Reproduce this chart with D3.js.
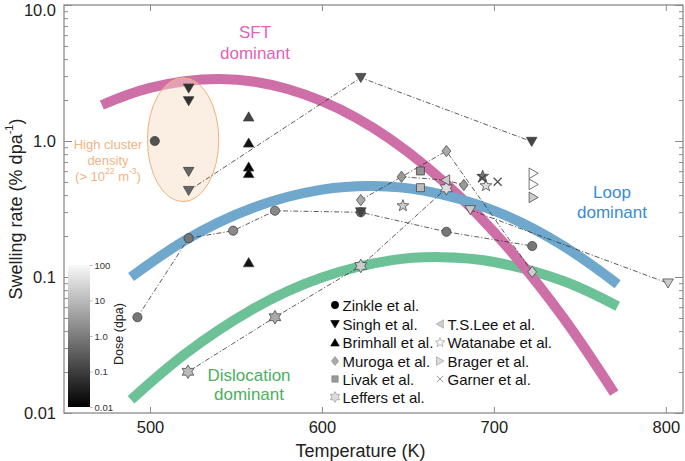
<!DOCTYPE html>
<html><head><meta charset="utf-8">
<script src="https://cdn.jsdelivr.net/npm/d3@7"></script>
<style>body{margin:0;background:#fff}svg{display:block;font-family:"Liberation Sans",Arial,Helvetica,sans-serif}</style>
</head><body><svg id="c" width="685" height="461"></svg>
<script>
// ---------------- data ----------------
const xTicks = [500, 600, 700, 800];
const yTicks = [0.01, 0.1, 1, 10];
const yTickLabels = ["0.01", "0.1", "1.0", "10.0"];
const doseTicks = [0.01, 0.1, 1, 10, 100];
const doseTickLabels = ["0.01", "0.1", "1.0", "10", "100"];

// guide bands [T (K), swelling rate]
const sftBand = [[472,1.84],[500,2.46],[540,2.86],[580,2.41],[620,1.48],[660,0.66],[700,0.215],[740,0.051],[770,0.014]];
const loopBand = [[489,0.100],[520,0.1845],[560,0.323],[600,0.439],[630,0.467],[660,0.430],[700,0.308],[740,0.1706],[772,0.0886]];
const dislocBand = [[489,0.0125],[520,0.0269],[560,0.0583],[600,0.0993],[640,0.1325],[670,0.140],[700,0.129],[740,0.0938],[772,0.0609]];

// high-cluster-density ellipse extents [Tmin, Tmax, vmin, vmax]
const clusterEllipse = [498.5, 540, 0.358, 2.92];

// studies: [T, rate, dose]
const zinkle   = [[502.8,1.0,0.2],[492.7,0.0506,0.7],[522.5,0.193,0.7],[548.4,0.219,1.4],[572.7,0.307,1.4],[622.6,0.299,0.4],[672.4,0.215,0.7],[722.3,0.169,0.7]];
const singh    = [[522.5,2.44,0.06],[522.5,1.97,0.06],[522.5,0.595,0.4],[522.5,0.431,0.4],[622.6,2.92,0.2],[722,0.99,0.12],[622.6,0.30,0.12],[686.3,0.311,16],[801.3,0.09,16]];
const brimhall = [[557.4,1.51,0.12],[557.4,0.97,0.02],[557.4,0.647,0.01],[557.4,0.579,0.01],[557.4,0.128,0.02]];
const muroga   = [[622.6,0.368,4.6],[646.3,0.546,2.5],[672.4,0.844,4.6],[682.5,0.475,2.5],[722.3,0.109,16]];
const livak    = [[657.3,0.602,2.0],[657.3,0.454,8.6]];
const leffers  = [[522.1,0.0201,8.6],[572.7,0.0506,4.6],[622.6,0.1205,16],[672.4,0.449,29]];
const tslee    = [[671.8,0.516,16]];
const watanabe = [[647.1,0.334,16],[695.4,0.469,29],[693.5,0.55,0.7]];
const brager   = [[723,0.579,100],[723,0.48,100],[723,0.385,16]];
const garner   = [[693.1,0.532,0.12],[702.2,0.502,0.2]];

// dash-dot connectors [T, rate]
const connectors = [
  [[492.7,0.0506],[522.5,0.193],[548.4,0.219],[572.7,0.307],[622.6,0.299],[672.4,0.215],[722.3,0.169]],
  [[522.5,0.431],[622.6,2.92],[722,0.99]],
  [[622.6,0.368],[646.3,0.546],[672.4,0.844],[722.3,0.109]],
  [[646.3,0.546],[671.8,0.516],[682.5,0.475]],
  [[522.1,0.0201],[572.7,0.0506],[622.6,0.1205],[672.4,0.449]],
  [[686.3,0.311],[801.3,0.09]]
];

const legendNames = ["Zinkle et al.","Singh et al.","Brimhall et al.","Muroga et al.","Livak et al.","Leffers et al.","T.S.Lee et al.","Watanabe et al.","Brager et al.","Garner et al."];

// ---------------- drawing ----------------
const svg = d3.select("#c");
const L = 64, R = 683, T = 5, B = 413;
const x = d3.scaleLinear().domain([450, 810]).range([L, R]);
const y = d3.scaleLog().domain([0.01, 10]).range([B, T]);
const doseT = d3.scaleLog().domain([0.01, 100]).range([0, 1]).clamp(true);
const gray = d => d3.interpolateRgb("#000", "#fff")(doseT(d));

// shapes
function poly(pts){ return "M" + pts.map(p => p[0].toFixed(2) + "," + p[1].toFixed(2)).join("L") + "Z"; }
function starPath(n, ro, ri, a0){
  const pts = [];
  for (let i = 0; i < 2*n; i++){
    const a = a0 + i*Math.PI/n, r = i%2 ? ri : ro;
    pts.push([r*Math.cos(a), r*Math.sin(a)]);
  }
  return poly(pts);
}
function shape(type, s){
  switch(type){
    case "circle": return `M${-4.6*s},0A${4.6*s},${4.6*s} 0 1,0 ${4.6*s},0A${4.6*s},${4.6*s} 0 1,0 ${-4.6*s},0Z`;
    case "down": return poly([[-5.3*s,-4.3*s],[5.3*s,-4.3*s],[0,4.8*s]]);
    case "up": return poly([[-5.3*s,4.3*s],[5.3*s,4.3*s],[0,-4.8*s]]);
    case "left": return poly([[-4.8*s,0],[4.3*s,-5.3*s],[4.3*s,5.3*s]]);
    case "right": return poly([[4.8*s,0],[-4.3*s,-5.3*s],[-4.3*s,5.3*s]]);
    case "diamond": return poly([[0,-5.6*s],[4.4*s,0],[0,5.6*s],[-4.4*s,0]]);
    case "square": return poly([[-4*s,-4*s],[4*s,-4*s],[4*s,4*s],[-4*s,4*s]]);
    case "star": return starPath(5, 6.2*s, 2.6*s, -Math.PI/2);
    case "hex": return starPath(6, 6.8*s, 6.8*s/Math.sqrt(3), -Math.PI/2);
    case "cross": { const c = 4*s; return `M${-c},${-c}L${c},${c}M${-c},${c}L${c},${-c}`; }
  }
}

// frame + axes
const gAx = svg.append("g");
function styleAxis(g){
  g.select(".domain").remove();
  g.selectAll("line").attr("stroke", "#8a8a8a").attr("stroke-width", 1);
  g.selectAll("text").attr("fill", "#222").attr("font-size", "16.5px");
}
const minorY = [];
for (let e = -2; e < 1; e++) for (let m = 2; m <= 9; m++) minorY.push(m*Math.pow(10, e));

const yAxisG = gAx.append("g").attr("transform", `translate(${L},0)`)
  .call(d3.axisLeft(y).tickValues(yTicks).tickSize(-8).tickPadding(8).tickFormat((d,i) => yTickLabels[i]))
  .call(styleAxis);
yAxisG.selectAll(".tick text").filter(d => d === 10).attr("dy", "0.62em");
gAx.append("g").attr("transform", `translate(${L},0)`)
  .call(d3.axisLeft(y).tickValues(minorY).tickSize(-4).tickFormat(""))
  .call(styleAxis);
gAx.append("g").attr("transform", `translate(${R},0)`)
  .call(d3.axisRight(y).tickValues(yTicks).tickSize(-8).tickFormat(""))
  .call(styleAxis);
gAx.append("g").attr("transform", `translate(${R},0)`)
  .call(d3.axisRight(y).tickValues(minorY).tickSize(-4).tickFormat(""))
  .call(styleAxis);
gAx.append("g").attr("transform", `translate(0,${B})`)
  .call(d3.axisBottom(x).tickValues(xTicks).tickSize(-6).tickPadding(8).tickFormat(d3.format("d")))
  .call(styleAxis);
gAx.append("g").attr("transform", `translate(0,${T})`)
  .call(d3.axisTop(x).tickValues(xTicks).tickSize(-6).tickFormat(""))
  .call(styleAxis);
svg.append("rect").attr("x", L).attr("y", T).attr("width", R-L).attr("height", B-T)
  .attr("fill", "none").attr("stroke", "#8a8a8a").attr("stroke-width", 1.3);

svg.append("text").attr("x", (L+R)/2 - 13).attr("y", 451).attr("text-anchor", "middle")
  .attr("font-size", "18px").attr("fill", "#222").attr("dominant-baseline", "central").text("Temperature (K)");
const yl = svg.append("text").attr("transform", `translate(16,${(T+B)/2}) rotate(-90)`)
  .attr("text-anchor", "middle").attr("dominant-baseline", "central").attr("font-size", "18px").attr("fill", "#222");
yl.append("tspan").text("Swelling rate (% dpa");
yl.append("tspan").attr("font-size", "11px").attr("dy", "-7").text("-1");
yl.append("tspan").attr("dy", "7").text(")");

// clip for plot contents
svg.append("clipPath").attr("id", "clip").append("rect").attr("x", L).attr("y", T).attr("width", R-L).attr("height", B-T);
const plot = svg.append("g").attr("clip-path", "url(#clip)");

// bands
const bandLine = d3.line().x(d => x(d[0])).y(d => y(d[1])).curve(d3.curveNatural);
[[dislocBand, "#6cc196"], [sftBand, "#cf6fa7"], [loopBand, "#6fa8cc"]].forEach(([d, c]) => {
  plot.append("path").attr("d", bandLine(d)).attr("fill", "none").attr("stroke", c)
    .attr("stroke-width", 10).attr("stroke-linecap", "butt");
});

// ellipse
{
  const [t0, t1, v0, v1] = clusterEllipse;
  const cx = (x(t0)+x(t1))/2, cy = (y(v0)+y(v1))/2;
  plot.append("ellipse").attr("cx", cx).attr("cy", cy)
    .attr("rx", (x(t1)-x(t0))/2).attr("ry", (y(v0)-y(v1))/2)
    .attr("fill", "#f7dcc4").attr("fill-opacity", 0.45)
    .attr("stroke", "#efb27c").attr("stroke-width", 1);
}

// region labels
function label(lines, cx, cy, color, size, gap){
  lines.forEach((t, i) => svg.append("text").attr("x", cx).attr("y", cy + i*gap)
    .attr("text-anchor", "middle").attr("dominant-baseline", "central")
    .attr("font-size", size).attr("fill", color).text(t));
}
label(["SFT", "dominant"], 255, 32, "#e063b9", "17px", 21);
label(["Loop", "dominant"], 612, 192, "#3a8bd2", "17px", 20);
label(["Dislocation", "dominant"], 249, 375, "#4caf60", "17px", 19.5);
label(["High cluster", "density"], 108, 144, "#f1b482", "13px", 16);
{
  const t = svg.append("text").attr("x", 108).attr("y", 176).attr("text-anchor", "middle")
    .attr("dominant-baseline", "central").attr("font-size", "13px").attr("fill", "#f1b482");
  t.append("tspan").text("(> 10");
  t.append("tspan").attr("font-size", "8.5px").attr("dy", "-5").text("22");
  t.append("tspan").attr("dy", "5").text(" m");
  t.append("tspan").attr("font-size", "8.5px").attr("dy", "-5").text("-3");
  t.append("tspan").attr("dy", "5").text(")");
}

// connectors
const conLine = d3.line().x(d => x(d[0])).y(d => y(d[1]));
connectors.forEach(c => plot.append("path").attr("d", conLine(c)).attr("fill", "none")
  .attr("stroke", "#333").attr("stroke-width", 0.8).attr("stroke-dasharray", "5,2,1.2,2"));

// markers
const studies = [
  [zinkle, "circle"], [singh, "down"], [brimhall, "up"], [muroga, "diamond"], [livak, "square"],
  [leffers, "hex"], [tslee, "left"], [watanabe, "star"], [brager, "right"], [garner, "cross"]
];
studies.forEach(([data, type]) => {
  plot.selectAll(null).data(data).enter().append("path")
    .attr("transform", d => `translate(${x(d[0])},${y(d[1])})`)
    .attr("d", shape(type, 1))
    .attr("fill", d => type === "cross" ? "none" : gray(d[2]))
    .attr("stroke", d => type === "cross" ? gray(d[2]) : "#3a3a3a")
    .attr("stroke-width", type === "cross" ? 1.3 : 0.7);
});

// legend
const legStyle = [
  ["circle", "#000", "#000"], ["down", "#000", "#000"], ["up", "#000", "#000"],
  ["diamond", "#aaa", "#888"], ["square", "#999", "#888"], ["hex", "#ddd", "#999"],
  ["left", "#ccc", "#aaa"], ["star", "#fff", "#999"], ["right", "#ddd", "#999"], ["cross", "none", "#999"]
];
const legPos = [[335,305],[335,324],[335,342.5],[335,361],[335,379],[335,397],
                [440,324],[440,342.5],[440,361],[440,379]];
legendNames.forEach((name, i) => {
  const [px, py] = legPos[i];
  const [type, f, s] = legStyle[i];
  svg.append("path").attr("transform", `translate(${px},${py})`).attr("d", shape(type, 0.8))
    .attr("fill", f).attr("stroke", s).attr("stroke-width", type === "cross" ? 1 : 0.7);
  svg.append("text").attr("x", px + 7.5).attr("y", py).attr("dominant-baseline", "central")
    .attr("font-size", "15px").attr("fill", "#111").text(name);
});

// dose colourbar
{
  const defs = svg.append("defs");
  const lg = defs.append("linearGradient").attr("id", "dose").attr("x1", 0).attr("x2", 0).attr("y1", 1).attr("y2", 0);
  lg.append("stop").attr("offset", 0).attr("stop-color", "#000");
  lg.append("stop").attr("offset", 1).attr("stop-color", "#f8f8f8");
  const cbTop = 265, cbBot = 407, cbX = 68, cbW = 22;
  svg.append("rect").attr("x", cbX).attr("y", cbTop).attr("width", cbW).attr("height", cbBot - cbTop)
    .attr("fill", "url(#dose)");
  const yd = d3.scaleLog().domain([0.01, 100]).range([cbBot, cbTop]);
  const ga = svg.append("g").attr("transform", `translate(${cbX + cbW},0)`)
    .call(d3.axisRight(yd).tickValues(doseTicks).tickSize(2.5).tickPadding(2).tickFormat((d,i) => doseTickLabels[i]));
  ga.select(".domain").remove();
  ga.selectAll("line").attr("stroke", "#bbb");
  ga.selectAll("text").attr("font-size", "9.5px").attr("fill", "#333");
  svg.append("text").attr("transform", `translate(119,334) rotate(-90)`).attr("text-anchor", "middle")
    .attr("dominant-baseline", "central").attr("font-size", "12.5px").attr("fill", "#222").text("Dose (dpa)");
}
</script></body></html>
